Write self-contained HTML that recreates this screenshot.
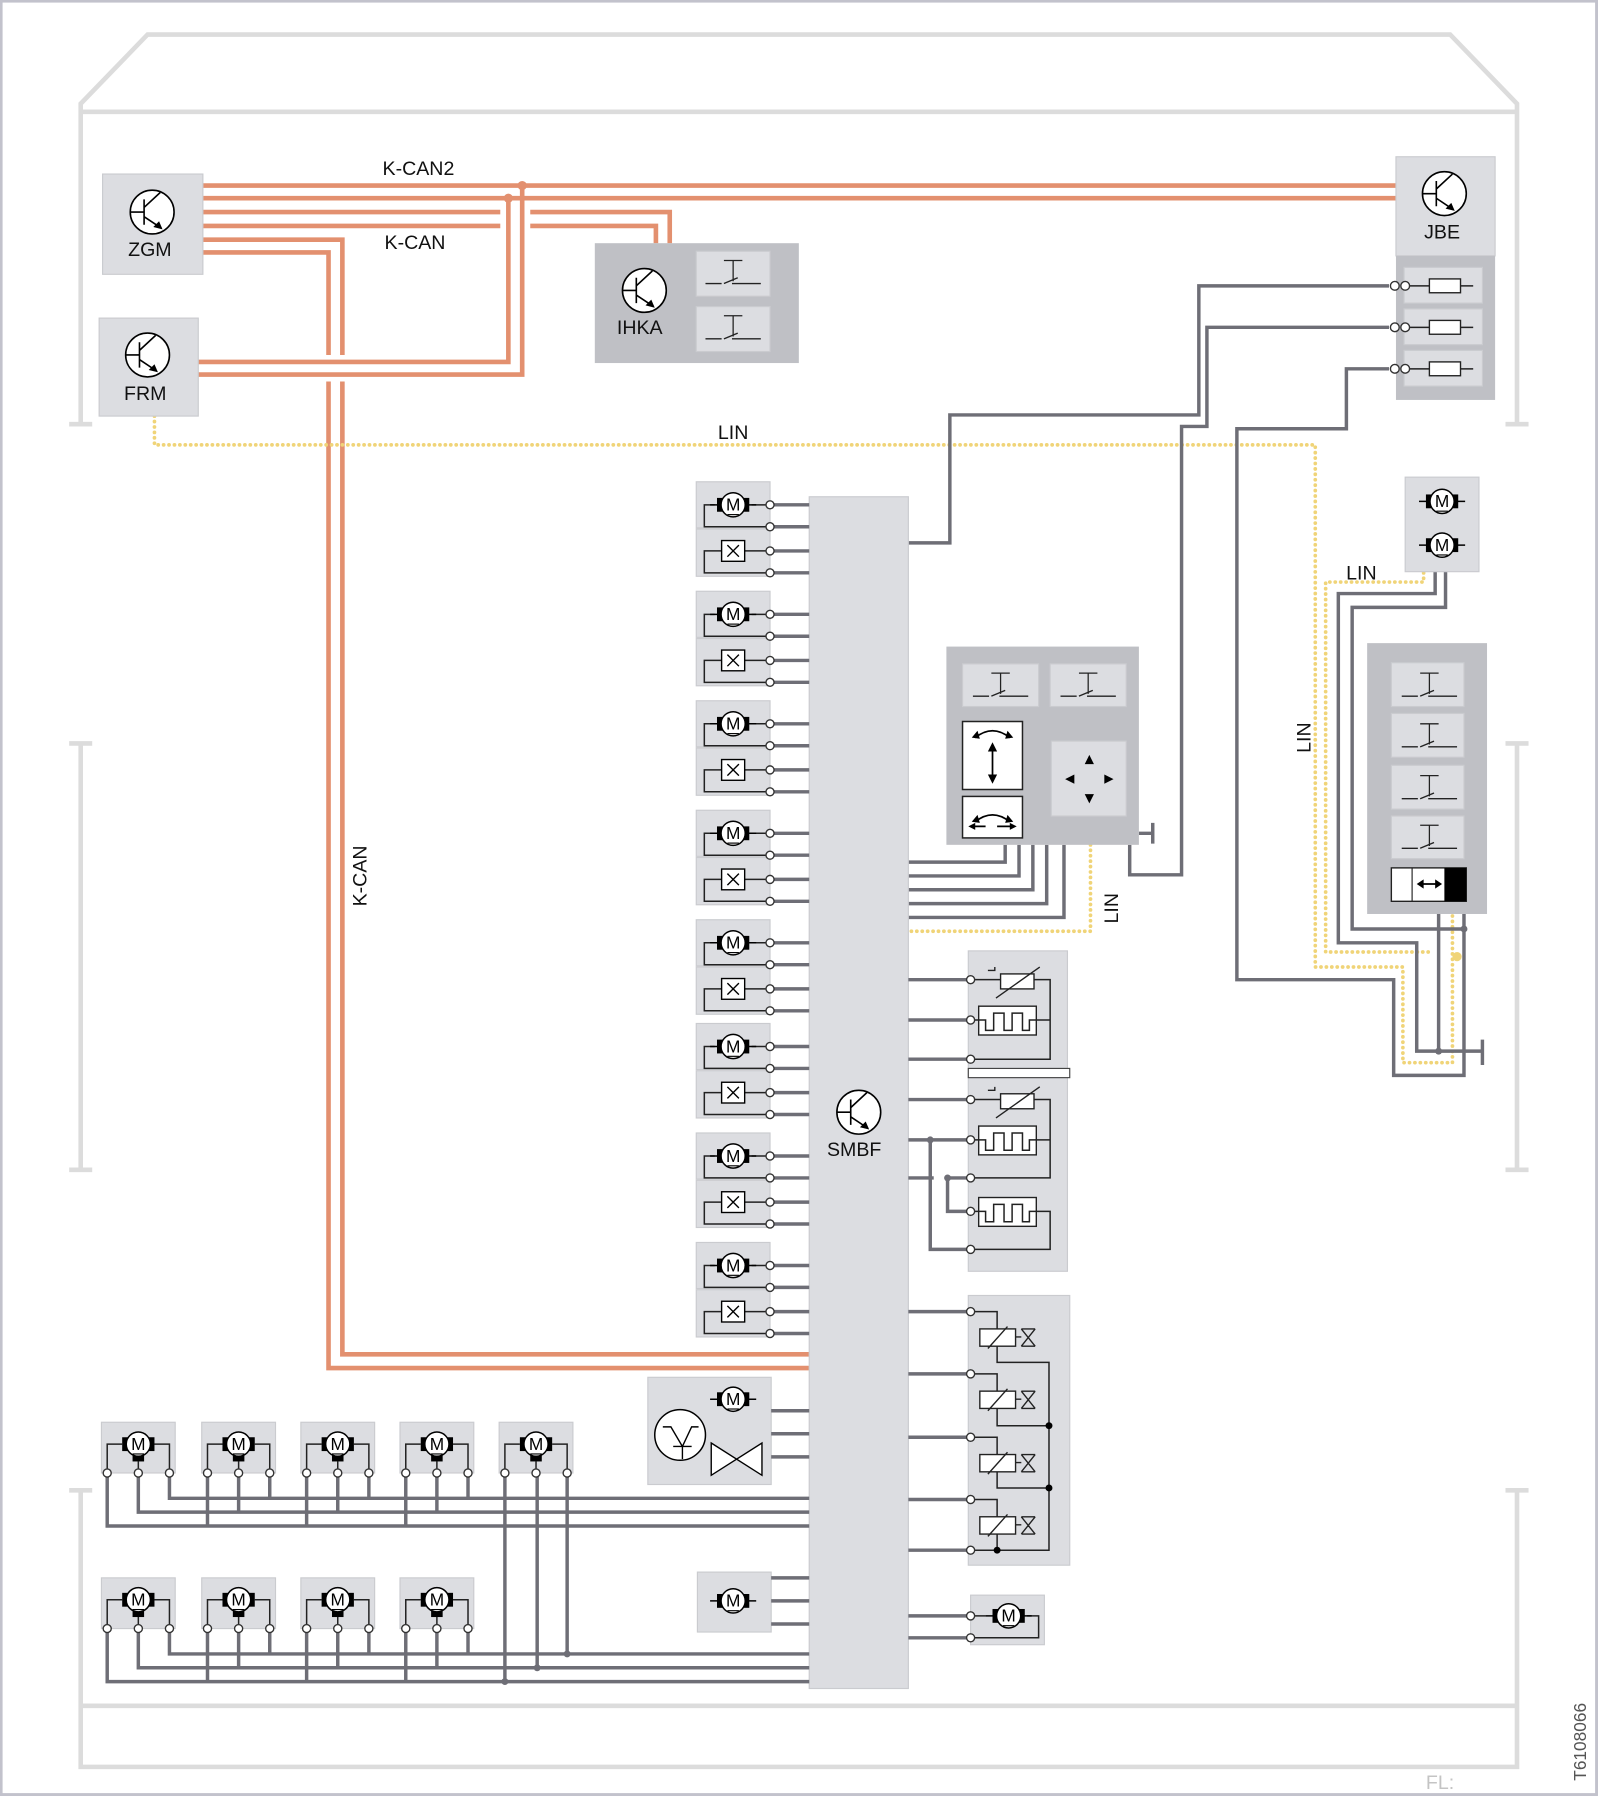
<!DOCTYPE html>
<html><head><meta charset="utf-8"><style>
html,body{margin:0;padding:0;background:#fff}
svg{display:block}
text{font-family:"Liberation Sans",sans-serif}
.lb{font-size:17px;fill:#111;text-anchor:middle}
.m{font-size:15px;fill:#000;text-anchor:middle}
.g{fill:none;stroke:#6e6e76;stroke-width:3}
.t{fill:none;stroke:#222;stroke-width:1.3}
.o{fill:none;stroke:#e3906f;stroke-width:4}
.y{fill:none;stroke:#f0d478;stroke-width:3.2;stroke-dasharray:0.1 4.6;stroke-linecap:round}
.c{fill:none;stroke:#dcdcdc;stroke-width:4}
.bx{fill:#dcdde1;stroke:#cacbcf;stroke-width:1}
.dk{fill:#bfc0c5}
.ci{fill:#fff;stroke:#333;stroke-width:1.2}
</style></head><body>
<svg width="1600" height="1798" viewBox="0 0 1388 1560" preserveAspectRatio="none" xmlns="http://www.w3.org/2000/svg">
<defs>
<g id="mot"><path d="M-20 0H-12M12 0H20" stroke="#000" stroke-width="1.3"/><rect x="-14" y="-6" width="5" height="12"/><rect x="9" y="-6" width="5" height="12"/><circle r="10.5" fill="#fff" stroke="#000" stroke-width="1.3"/><path d="M-5 8.5H5" stroke="#000" stroke-width="1"/></g>
<g id="motv"><rect x="-14" y="-6" width="5" height="12"/><rect x="9" y="-6" width="5" height="12"/><rect x="-5" y="9" width="10" height="6"/><circle r="10.5" fill="#fff" stroke="#000" stroke-width="1.3"/><path d="M-5 8.5H5" stroke="#000" stroke-width="1"/></g>
<g id="tr"><circle r="19" fill="#fff" stroke="#000" stroke-width="1.4"/><path d="M-19 0H-7M-7 -11V11M-7 -4L7 -17M-7 4L8 14" stroke="#000" stroke-width="1.4" fill="none"/><path d="M9 15L1 13L6 8Z"/></g>
<g id="sw"><path d="M-8 -14H8M0 -14V4" stroke="#222" stroke-width="1.1" fill="none" stroke-dasharray="0"/><path d="M-24 6H-10M-8 6L4 1M-1 6H24" stroke="#222" stroke-width="1.2" fill="none"/></g>
<g id="grp">
<rect class="bx" x="604" y="0" width="64" height="40"/><rect class="bx" x="604" y="41" width="64" height="41"/>
<path class="t" d="M620 20H611V39H665M652 20H665M626 60H611V79H665M646 60H665"/>
<use href="#mot" transform="translate(636 20)"/>
<rect x="626" y="51" width="20" height="18" fill="#fff" stroke="#000" stroke-width="1.2"/>
<path d="M631 55L641 65M641 55L631 65" stroke="#000" stroke-width="1.2"/>
<path class="g" d="M671 20H702M671 39H702M671 60H702M671 79H702"/>
<circle class="ci" cx="668" cy="20" r="3.5"/><circle class="ci" cx="668" cy="39" r="3.5"/><circle class="ci" cx="668" cy="60" r="3.5"/><circle class="ci" cx="668" cy="79" r="3.5"/>
</g>
<g id="bm">
<rect class="bx" x="0" y="0" width="64" height="44"/>
<path class="t" d="M18 19H5V41M46 19H59V41M32 34V41"/>
<use href="#motv" transform="translate(32 19)"/>
<circle class="ci" cx="5" cy="44" r="3.5"/><circle class="ci" cx="32" cy="44" r="3.5"/><circle class="ci" cx="59" cy="44" r="3.5"/>
</g>
</defs>

<rect x="1" y="1" width="1384" height="1556" fill="#fff" stroke="#c2c2cc" stroke-width="2.5"/>

<!-- car outline -->
<path class="c" d="M70 368V90L128 30H1258L1316 90V368M70 97H1316M60 368H80M1306 368H1326"/>
<path class="c" d="M70 645V1015M60 645H80M60 1015H80M1316 645V1015M1306 645H1326M1306 1015H1326"/>
<path class="c" d="M60 1293H80M70 1293V1533H1316V1293M1306 1293H1326M70 1480H1316"/>

<!-- K-CAN -->
<path class="o" d="M176 161H1211M176 172H1211M176 184H434M460 184H581V211M176 196H434M460 196H569V211"/>
<path class="o" d="M176 208H297V308M297 331V1175H702M176 219H285V308M285 331V1187H702"/>
<path class="o" d="M172 314H441V172M172 325H453V161"/>
<circle cx="441" cy="172" r="4" fill="#e3906f"/><circle cx="453" cy="161" r="4" fill="#e3906f"/>

<!-- LIN -->
<path class="y" d="M134 361V386H1141V839H1217V922H1260V792"/>
<path class="y" d="M1235 497V505H1150V826H1241"/>
<path class="y" d="M946 733V808H788"/>
<circle cx="1264" cy="830" r="4" fill="#f0d478"/>

<!-- gray wires -->
<path class="g" d="M788 471H824V360H1040V248H1205"/>
<path class="g" d="M980 733V759H1025V370H1047V284H1205"/>
<path class="g" d="M1205 320H1168V372H1073V850H1209V933H1270V793"/>
<path class="g" d="M1254 496V527H1173V806H1270"/>
<path class="g" d="M1245 496V515H1161V818H1229V912H1286M1286 902V924"/>
<path class="g" d="M1248 793V912"/>
<circle cx="1270" cy="806" r="3" fill="#6e6e76"/><circle cx="1248" cy="912" r="3" fill="#6e6e76"/>
<path class="g" d="M872 733V748H788M884 733V760H788M896 733V772H788M908 733V784H788M923 733V796H788M988 723H1000M1000 714V732"/>

<!-- ZGM / FRM / JBE / IHKA -->
<rect class="bx" x="89" y="151" width="87" height="87"/>
<use href="#tr" transform="translate(132 184)"/><text class="lb" x="130" y="222">ZGM</text>
<rect class="bx" x="86" y="276" width="86" height="85"/>
<use href="#tr" transform="translate(128 308)"/><text class="lb" x="126" y="347">FRM</text>
<rect class="bx" x="1211" y="136" width="86" height="86"/>
<rect class="dk" x="1211" y="222" width="86" height="125"/>
<use href="#tr" transform="translate(1253 168)"/><text class="lb" x="1251" y="207">JBE</text>
<rect class="bx" x="1218" y="232" width="68" height="31"/><rect class="bx" x="1218" y="268" width="68" height="31"/><rect class="bx" x="1218" y="304" width="68" height="31"/>
<path class="t" d="M1222 248H1278M1222 284H1278M1222 320H1278"/>
<rect x="1240" y="242" width="27" height="12" fill="#fff" stroke="#222" stroke-width="1.2"/>
<rect x="1240" y="278" width="27" height="12" fill="#fff" stroke="#222" stroke-width="1.2"/>
<rect x="1240" y="314" width="27" height="12" fill="#fff" stroke="#222" stroke-width="1.2"/>
<circle class="ci" cx="1210" cy="248" r="3.8"/><circle class="ci" cx="1219" cy="248" r="3.8"/>
<circle class="ci" cx="1210" cy="284" r="3.8"/><circle class="ci" cx="1219" cy="284" r="3.8"/>
<circle class="ci" cx="1210" cy="320" r="3.8"/><circle class="ci" cx="1219" cy="320" r="3.8"/>

<rect class="dk" x="516" y="211" width="177" height="104"/>
<use href="#tr" transform="translate(559 252)"/><text class="lb" x="555" y="290">IHKA</text>
<rect class="bx" x="604" y="218" width="64" height="39"/><rect class="bx" x="604" y="266" width="64" height="39"/>
<use href="#sw" transform="translate(636 240)"/><use href="#sw" transform="translate(636 288)"/>

<text class="lb" x="363" y="152">K-CAN2</text>
<text class="lb" x="360" y="216">K-CAN</text>
<text class="lb" x="0" y="0" transform="translate(318 760) rotate(-90)">K-CAN</text>
<text class="lb" x="636" y="381">LIN</text>
<text class="lb" x="1181" y="503">LIN</text>
<text class="lb" x="0" y="0" transform="translate(1137 640) rotate(-90)">LIN</text>
<text class="lb" x="0" y="0" transform="translate(970 788) rotate(-90)">LIN</text>

<!-- SMBF -->
<rect x="702" y="431" width="86" height="1034" fill="#dcdde1" stroke="#cacbcf"/>
<use href="#tr" transform="translate(745 965)"/><text class="lb" x="741" y="1003">SMBF</text>

<!-- left column groups -->
<use href="#grp" transform="translate(0 418)"/><use href="#grp" transform="translate(0 513)"/>
<use href="#grp" transform="translate(0 608)"/><use href="#grp" transform="translate(0 703)"/>
<use href="#grp" transform="translate(0 798)"/><use href="#grp" transform="translate(0 888)"/>
<use href="#grp" transform="translate(0 983)"/><use href="#grp" transform="translate(0 1078)"/>
<text class="m" x="636" y="443">M</text><text class="m" x="636" y="538">M</text><text class="m" x="636" y="633">M</text><text class="m" x="636" y="728">M</text>
<text class="m" x="636" y="823">M</text><text class="m" x="636" y="913">M</text><text class="m" x="636" y="1008">M</text><text class="m" x="636" y="1103">M</text>

<!-- control panel -->
<rect class="dk" x="821" y="561" width="167" height="172"/>
<rect class="bx" x="835" y="576" width="66" height="37"/><rect class="bx" x="911" y="576" width="66" height="37"/>
<use href="#sw" transform="translate(868 598)"/><use href="#sw" transform="translate(944 598)"/>
<rect x="835" y="626" width="52" height="59" fill="#fff" stroke="#222" stroke-width="1.3"/>
<rect x="835" y="691" width="52" height="36" fill="#fff" stroke="#222" stroke-width="1.3"/>
<path d="M846 640Q861 628 876 640M861 648V676M846 713Q861 701 876 713M843 717H855M865 717H879" stroke="#000" stroke-width="1.5" fill="none"/>
<path d="M861 644L857 652H865ZM861 680L857 672H865ZM843 640L848 634L850 641ZM879 640L874 634L872 641ZM843 713L848 707L850 714ZM879 713L874 707L872 714ZM840 717L846 714V720ZM882 717L876 714V720Z"/>
<rect class="bx" x="912" y="643" width="65" height="65"/>
<path d="M945 655L941 663H949ZM945 697L941 689H949ZM924 676L932 672V680ZM966 676L958 672V680Z"/>

<!-- right motor pair / switch panel -->
<rect class="bx" x="1219" y="414" width="64" height="82"/>
<use href="#mot" transform="translate(1251 435)"/><use href="#mot" transform="translate(1251 473)"/>
<text class="m" x="1251" y="440">M</text><text class="m" x="1251" y="478">M</text>
<rect class="dk" x="1186" y="558" width="104" height="235"/>
<rect class="bx" x="1207" y="575" width="63" height="38"/><rect class="bx" x="1207" y="619" width="63" height="38"/>
<rect class="bx" x="1207" y="664" width="63" height="38"/><rect class="bx" x="1207" y="708" width="63" height="37"/>
<use href="#sw" transform="translate(1240 598)"/><use href="#sw" transform="translate(1240 642)"/>
<use href="#sw" transform="translate(1240 687)"/><use href="#sw" transform="translate(1240 730)"/>
<rect x="1207" y="753" width="65" height="29" fill="#fff" stroke="#222" stroke-width="1.2"/>
<rect x="1253" y="753" width="19" height="29"/><path d="M1225 753V782" stroke="#222"/>
<path d="M1232 767H1248" stroke="#000" stroke-width="1.5"/><path d="M1229 767L1235 763V771ZM1251 767L1245 763V771Z"/>

<!-- sensor box -->
<rect class="bx" x="840" y="825" width="86" height="278"/>
<rect x="840" y="927" width="88" height="8" fill="#fff" stroke="#444" stroke-width="1"/>
<path class="g" d="M788 850H839M788 885H839M788 919H839M788 954H839M788 989H839M788 1022H810M820 1022H839M807 989V1084H839M822 1022V1051H839"/>
<path class="t" d="M842 850H868M897 850H911V919H842M842 885H849M899 885H911M842 954H868M897 954H911V1022H842M842 989H849M899 989H911M842 1051H849M899 1051H911V1084H842"/>
<rect x="868" y="845" width="29" height="13" fill="#fff" stroke="#222" stroke-width="1.2"/>
<rect x="868" y="949" width="29" height="13" fill="#fff" stroke="#222" stroke-width="1.2"/>
<path d="M864 866L902 839M864 970L902 943M857 842H863V839M857 946H863V943" stroke="#222" stroke-width="1.2" fill="none"/>
<rect x="849" y="873" width="50" height="25" fill="#fff" stroke="#222" stroke-width="1.2"/>
<rect x="849" y="977" width="50" height="25" fill="#fff" stroke="#222" stroke-width="1.2"/>
<rect x="849" y="1039" width="50" height="25" fill="#fff" stroke="#222" stroke-width="1.2"/>
<path class="t" d="M849 885H855V894H862V879H871V894H878V879H887V894H893V885H899M849 989H855V998H862V983H871V998H878V983H887V998H893V989H899M849 1051H855V1060H862V1045H871V1060H878V1045H887V1060H893V1051H899"/>
<circle class="ci" cx="842" cy="850" r="3.5"/><circle class="ci" cx="842" cy="885" r="3.5"/><circle class="ci" cx="842" cy="919" r="3.5"/>
<circle class="ci" cx="842" cy="954" r="3.5"/><circle class="ci" cx="842" cy="989" r="3.5"/><circle class="ci" cx="842" cy="1022" r="3.5"/>
<circle class="ci" cx="842" cy="1051" r="3.5"/><circle class="ci" cx="842" cy="1084" r="3.5"/>
<circle cx="807" cy="989" r="3" fill="#6e6e76"/><circle cx="822" cy="1022" r="3" fill="#6e6e76"/>

<!-- valve box -->
<rect class="bx" x="840" y="1124" width="88" height="234"/>
<path class="g" d="M788 1138H839M788 1192H839M788 1247H839M788 1301H839M788 1345H839"/>
<path class="t" d="M842 1138H865V1153M865 1168V1182H910V1345H842M842 1192H865V1207M865 1222V1237H910M842 1247H865V1262M865 1277V1291H910M842 1301H865V1316M865 1331V1345"/>
<g fill="#fff" stroke="#222" stroke-width="1.2">
<rect x="850" y="1153" width="31" height="15"/><rect x="850" y="1207" width="31" height="15"/>
<rect x="850" y="1262" width="31" height="15"/><rect x="850" y="1316" width="31" height="15"/>
</g>
<path d="M857 1170L874 1151M857 1224L874 1205M857 1279L874 1260M857 1333L874 1314M881 1160H886M881 1214H886M881 1269H886M881 1323H886M886 1153L898 1168M886 1168L898 1153M886 1153H898M886 1168H898M886 1207L898 1222M886 1222L898 1207M886 1207H898M886 1222H898M886 1262L898 1277M886 1277L898 1262M886 1262H898M886 1277H898M886 1316L898 1331M886 1331L898 1316M886 1316H898M886 1331H898" stroke="#222" stroke-width="1.2" fill="none"/>
<circle cx="910" cy="1237" r="3" fill="#000"/><circle cx="910" cy="1291" r="3" fill="#000"/><circle cx="865" cy="1345" r="3" fill="#000"/>
<circle class="ci" cx="842" cy="1138" r="3.5"/><circle class="ci" cx="842" cy="1192" r="3.5"/><circle class="ci" cx="842" cy="1247" r="3.5"/><circle class="ci" cx="842" cy="1301" r="3.5"/><circle class="ci" cx="842" cy="1345" r="3.5"/>

<!-- small motor right bottom -->
<rect class="bx" x="842" y="1384" width="64" height="43"/>
<path class="g" d="M788 1402H839M788 1421H839"/>
<path class="t" d="M845 1402H855M891 1402H901V1421H845"/>
<use href="#mot" transform="translate(875 1402)"/><text class="m" x="875" y="1407">M</text>
<circle class="ci" cx="842" cy="1402" r="3.5"/><circle class="ci" cx="842" cy="1421" r="3.5"/>

<!-- bottom middle boxes -->
<rect class="bx" x="562" y="1195" width="107" height="93"/>
<path class="g" d="M669 1224H702M669 1244H702M669 1264H702"/>
<use href="#mot" transform="translate(636 1214)"/><text class="m" x="636" y="1219">M</text>
<circle cx="590" cy="1245" r="22" fill="#fff" stroke="#000" stroke-width="1.3"/>
<path d="M575 1238H582L592 1255M592 1255V1266M584 1255H600M592 1255L600 1238H606" stroke="#000" stroke-width="1.2" fill="none"/>
<path d="M617 1252L661 1280V1252L617 1280Z" fill="#fff" stroke="#000" stroke-width="1.2"/>
<rect class="bx" x="605" y="1364" width="64" height="52"/>
<path class="g" d="M669 1369H702M669 1389H702M669 1409H702"/>
<use href="#mot" transform="translate(636 1389)"/><text class="m" x="636" y="1394">M</text>

<!-- bottom rows wires -->
<path class="g" d="M93 1281V1324H702M120 1281V1312H702M147 1281V1300H702"/>
<path class="g" d="M180 1281V1324M207 1281V1312M234 1281V1300M266 1281V1324M293 1281V1312M320 1281V1300M352 1281V1324M379 1281V1312M406 1281V1300"/>
<path class="g" d="M438 1281V1459M466 1281V1447M492 1281V1435"/>
<path class="g" d="M93 1416V1459H702M120 1416V1447H702M147 1416V1435H702"/>
<path class="g" d="M180 1416V1459M207 1416V1447M234 1416V1435M266 1416V1459M293 1416V1447M320 1416V1435M352 1416V1459M379 1416V1447M406 1416V1435"/>
<circle cx="438" cy="1459" r="3" fill="#6e6e76"/><circle cx="466" cy="1447" r="3" fill="#6e6e76"/><circle cx="492" cy="1435" r="3" fill="#6e6e76"/>

<use href="#bm" transform="translate(88 1234)"/><use href="#bm" transform="translate(175 1234)"/><use href="#bm" transform="translate(261 1234)"/>
<use href="#bm" transform="translate(347 1234)"/><use href="#bm" transform="translate(433 1234)"/>
<use href="#bm" transform="translate(88 1369)"/><use href="#bm" transform="translate(175 1369)"/><use href="#bm" transform="translate(261 1369)"/><use href="#bm" transform="translate(347 1369)"/>
<text class="m" x="120" y="1258">M</text><text class="m" x="207" y="1258">M</text><text class="m" x="293" y="1258">M</text><text class="m" x="379" y="1258">M</text><text class="m" x="465" y="1258">M</text>
<text class="m" x="120" y="1393">M</text><text class="m" x="207" y="1393">M</text><text class="m" x="293" y="1393">M</text><text class="m" x="379" y="1393">M</text>

<text x="1237" y="1552" style="font-size:17px;fill:#c4c4c4">FL:</text>
<text x="0" y="0" transform="translate(1376 1545) rotate(-90)" style="font-size:15px;fill:#555">T6108066</text>
</svg>
</body></html>
